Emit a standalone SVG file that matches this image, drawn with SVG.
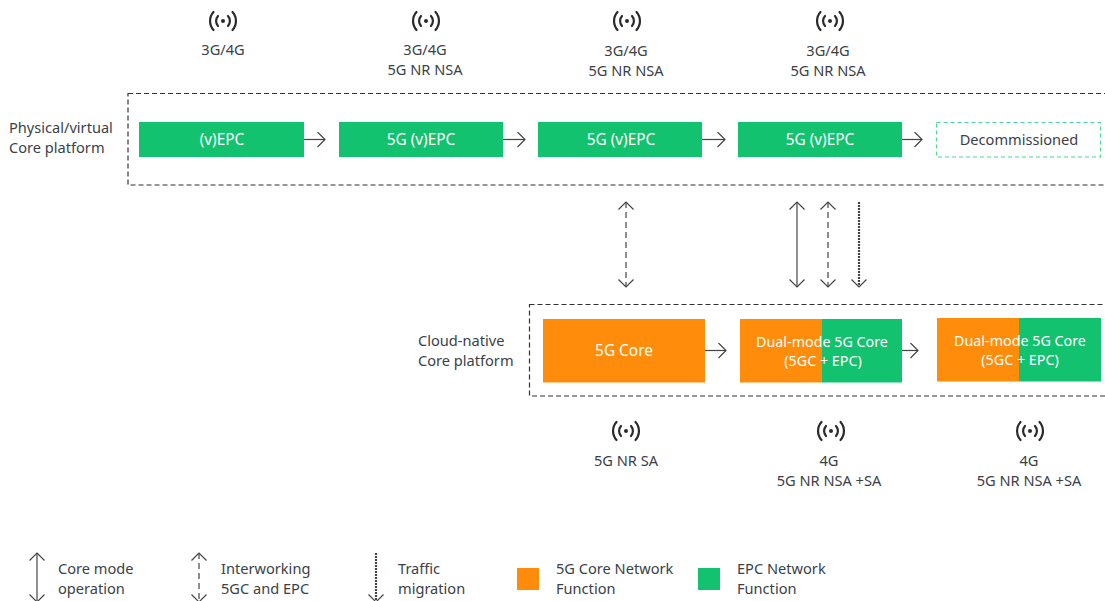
<svg xmlns="http://www.w3.org/2000/svg" width="1105" height="601" viewBox="0 0 1105 601">
<style>
text{font-family:"Noto Sans","Open Sans",sans-serif;font-size:14.600px;fill:#3a3f48}
.m{text-anchor:middle}
.w{fill:#fff;text-anchor:middle;font-size:15.400px}
.d{fill:#fff;text-anchor:middle;font-size:14.300px}
.g{fill:#13c26f}
.o{fill:#ff8c0a}
.frame{fill:none;stroke:#333;stroke-width:1.2;stroke-dasharray:5 3}
.c{fill:none;stroke:#444;stroke-width:1.2}
.da{stroke-dasharray:6 4}
.dot{stroke-width:2.2;stroke-dasharray:2 1}
.ic{fill:none;stroke:#2a2a2a;stroke-width:2.2;stroke-linecap:round}
</style>
<defs>
<marker id="h" markerUnits="userSpaceOnUse" markerWidth="10" markerHeight="16" refX="8" refY="8" orient="auto-start-reverse" viewBox="0 0 10 16"><path d="M.5 .5L8 8L.5 15.500" fill="none" stroke="#444" stroke-width="1.2"/></marker>
<symbol id="ant" overflow="visible"><circle cx="0" cy="0" r="2" fill="#2a2a2a"/><path class="ic" d="M-5 -5A7.500 7.500 0 0 0 -5 5M5 -5A7.500 7.500 0 0 1 5 5M-9.500 -9A13.500 13.500 0 0 0 -9.500 9M9.500 -9A13.500 13.500 0 0 1 9.500 9"/></symbol>
</defs>
<g id="connectors">
<path class="c" marker-end="url(#h)" d="M304 139.500H325"/>
<path class="c" marker-end="url(#h)" d="M503 139.500H525"/>
<path class="c" marker-end="url(#h)" d="M702 139.500H725"/>
<path class="c" marker-end="url(#h)" d="M902 139.500H922"/>
<path class="c" marker-end="url(#h)" d="M705 350.500H726"/>
<path class="c" marker-end="url(#h)" d="M902 350.500H918"/>
<path class="c da" marker-start="url(#h)" marker-end="url(#h)" d="M626 202V287"/>
<path class="c" marker-start="url(#h)" marker-end="url(#h)" d="M797 202V287"/>
<path class="c da" marker-start="url(#h)" marker-end="url(#h)" d="M828 202V287"/>
<path class="c dot" marker-end="url(#h)" d="M859 202V287"/>
</g>
<rect id="frame-top" class="frame" x="128" y="93.500" width="990" height="91.500"/>
<g id="label-physical"><text x="9" y="133">Physical/virtual</text><text x="9" y="153">Core platform</text></g>
<g id="n-epc"><rect class="g" x="139" y="122" width="165" height="35"/><text class="w" x="222" y="145">(v)EPC</text></g>
<g id="n-5g1"><rect class="g" x="339" y="122" width="164" height="35"/><text class="w" x="421" y="145">5G (v)EPC</text></g>
<g id="n-5g2"><rect class="g" x="538" y="122" width="164" height="35"/><text class="w" x="621" y="145">5G (v)EPC</text></g>
<g id="n-5g3"><rect class="g" x="738" y="122" width="164" height="35"/><text class="w" x="820" y="145">5G (v)EPC</text></g>
<g id="n-decom"><rect x="936.500" y="122.500" width="164" height="34.500" fill="none" stroke="#4fd69a" stroke-width="1.200" stroke-dasharray="4 3"/><text class="m" x="1019" y="145">Decommissioned</text></g>
<g id="top-radios">
<use href="#ant" x="223" y="21"/><text class="m" x="223" y="55">3G/4G</text>
<use href="#ant" x="426" y="21"/><text class="m" x="425" y="55">3G/4G</text><text class="m" x="425" y="75">5G NR NSA</text>
<use href="#ant" x="627" y="21"/><text class="m" x="626" y="56">3G/4G</text><text class="m" x="626" y="76">5G NR NSA</text>
<use href="#ant" x="830" y="21"/><text class="m" x="828" y="56">3G/4G</text><text class="m" x="828" y="76">5G NR NSA</text>
</g>
<rect id="frame-bottom" class="frame" x="529.500" y="304.500" width="590" height="91.500"/>
<g id="label-cloud"><text x="418" y="346">Cloud-native</text><text x="418" y="366">Core platform</text></g>
<g id="n-core"><rect class="o" x="543" y="319" width="162" height="63.500"/><text class="w" x="624" y="356">5G Core</text></g>
<g id="n-dual1"><rect class="o" x="740" y="319" width="82" height="63.500"/><rect class="g" x="822" y="319" width="80" height="63.500"/><text class="d" x="822" y="347">Dual-mode 5G Core</text><text class="d" x="823" y="366">(5GC + EPC)</text></g>
<g id="n-dual2"><rect class="o" x="937" y="318" width="82" height="63.500"/><rect class="g" x="1019" y="318" width="82" height="63.500"/><text class="d" x="1020" y="346">Dual-mode 5G Core</text><text class="d" x="1020" y="365">(5GC + EPC)</text></g>
<g id="bottom-radios">
<use href="#ant" x="626" y="431"/><text class="m" x="626" y="466">5G NR SA</text>
<use href="#ant" x="831" y="431"/><text class="m" x="829" y="486">5G NR NSA +SA</text><text class="m" x="829" y="466">4G</text>
<use href="#ant" x="1030" y="431"/><text class="m" x="1029" y="466">4G</text><text class="m" x="1029" y="486">5G NR NSA +SA</text>
</g>
<g id="legend">
<path class="c" marker-start="url(#h)" marker-end="url(#h)" d="M37 553V602"/>
<text x="58" y="574">Core mode</text><text x="58" y="594">operation</text>
<path class="c da" marker-start="url(#h)" marker-end="url(#h)" d="M199 553V602"/>
<text x="221" y="574">Interworking</text><text x="221" y="594">5GC and EPC</text>
<path class="c dot" marker-end="url(#h)" d="M376 553V602"/>
<text x="398" y="574">Traffic</text><text x="398" y="594">migration</text>
<rect class="o" x="517" y="568" width="22" height="22"/>
<text x="556" y="574">5G Core Network</text><text x="556" y="594">Function</text>
<rect class="g" x="698" y="568" width="22" height="22"/>
<text x="737" y="574">EPC Network</text><text x="737" y="594">Function</text>
</g>
</svg>
